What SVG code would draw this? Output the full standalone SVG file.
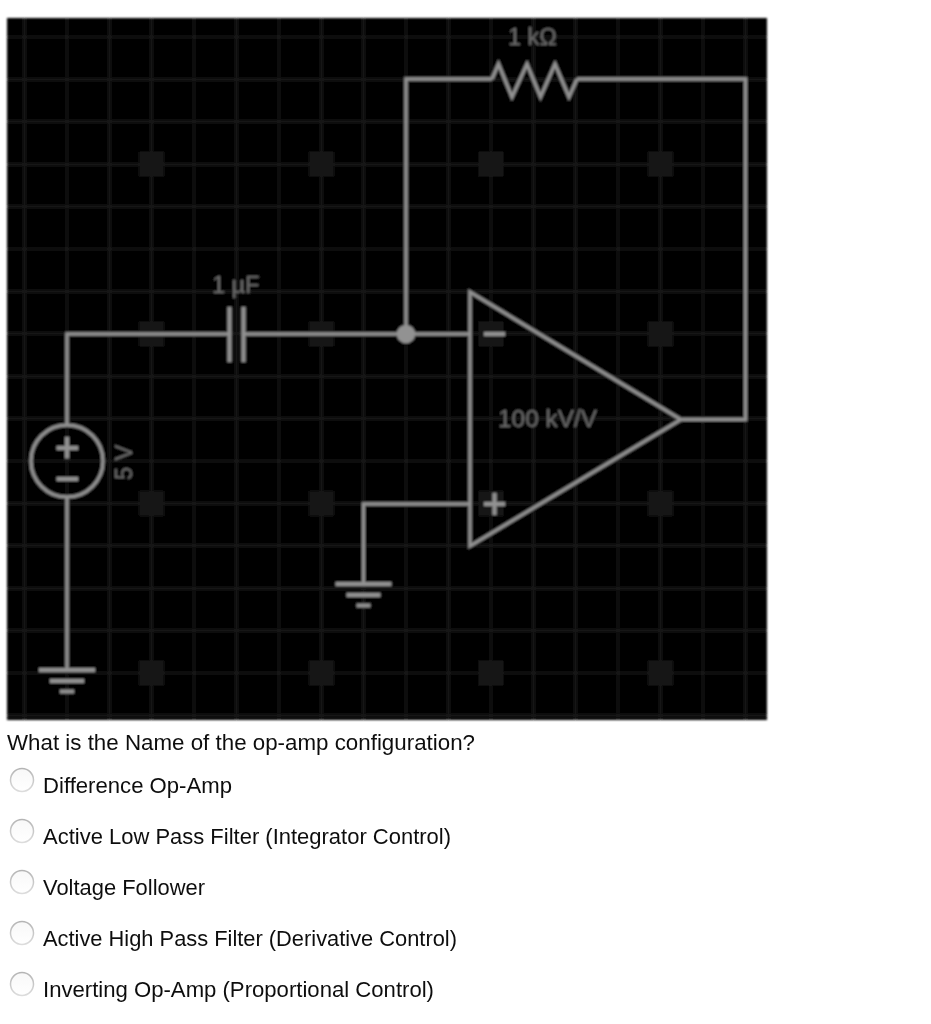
<svg xmlns="http://www.w3.org/2000/svg" width="931" height="1024" viewBox="0 0 931 1024">
<style>
.w{fill:none;stroke:#929292;stroke-width:3.400;stroke-linejoin:miter}
.t{fill:none;stroke:#929292;stroke-width:4.200}
.g{stroke:#191919;stroke-width:3;fill:none}
.s{fill:#171717}
.l{font-family:"Liberation Sans",Arial,sans-serif;font-size:23.500px;fill:#6c6c6c}
.q{font-family:"Liberation Sans",Arial,sans-serif;font-size:22.500px;fill:#111}
.r{fill:url(#rf);stroke:url(#rs);stroke-width:1.500}
</style>
<defs>
<filter id="b" x="-5%" y="-5%" width="110%" height="110%"><feGaussianBlur stdDeviation="0.8"/></filter>
<filter id="c" x="-5%" y="-5%" width="110%" height="110%"><feGaussianBlur stdDeviation="0.3"/></filter>
<linearGradient id="rs" x1="0" y1="0" x2="0" y2="1"><stop offset="0" stop-color="#b4b4b4"/><stop offset="1" stop-color="#dcdcdc"/></linearGradient>
<linearGradient id="rf" x1="0" y1="0" x2="0" y2="1"><stop offset="0" stop-color="#f8f8f8"/><stop offset="1" stop-color="#fff"/></linearGradient>
<g id="gnd"><path class="t" d="M-28 0H28M-17 11H17M-7 21.500H7"/></g>
</defs>
<rect width="931" height="1024" fill="#fff"/>
<g filter="url(#b)">
<g id="board">
<rect x="7" y="18" width="760" height="702" fill="#000"/>
<path class="g" d="M24.500 18V720M66.900 18V720M109.300 18V720M151.700 18V720M194.100 18V720M236.500 18V720M278.900 18V720M321.300 18V720M363.700 18V720M406.100 18V720M448.500 18V720M490.900 18V720M533.300 18V720M575.700 18V720M618.100 18V720M660.500 18V720M702.900 18V720M745.300 18V720"/>
<path class="g" d="M7 37H767M7 79.400H767M7 121.800H767M7 164.200H767M7 206.600H767M7 249H767M7 291.400H767M7 333.800H767M7 376.200H767M7 418.600H767M7 461H767M7 503.400H767M7 545.800H767M7 588.200H767M7 630.600H767M7 673H767M7 715.400H767"/>
<g class="s">
<rect x="139.200" y="151.700" width="25" height="25"/><rect x="308.800" y="151.700" width="25" height="25"/><rect x="478.400" y="151.700" width="25" height="25"/><rect x="648" y="151.700" width="25" height="25"/>
<rect x="139.200" y="321.300" width="25" height="25"/><rect x="308.800" y="321.300" width="25" height="25"/><rect x="478.400" y="321.300" width="25" height="25"/><rect x="648" y="321.300" width="25" height="25"/>
<rect x="139.200" y="490.900" width="25" height="25"/><rect x="308.800" y="490.900" width="25" height="25"/><rect x="478.400" y="490.900" width="25" height="25"/><rect x="648" y="490.900" width="25" height="25"/>
<rect x="139.200" y="660.500" width="25" height="25"/><rect x="308.800" y="660.500" width="25" height="25"/><rect x="478.400" y="660.500" width="25" height="25"/><rect x="648" y="660.500" width="25" height="25"/>
</g>
</g>
<g id="connectors">
<path class="w" d="M67 425V334H229"/>
<path class="w" d="M245 334H469"/>
<path class="w" d="M406 334V79H492"/>
<path class="w" d="M577 79H745.500V419.500H682"/>
<path class="w" d="M469 504H363.500V583"/>
<path class="w" d="M67 497V669"/>
</g>
<g id="source">
<circle cx="67" cy="461" r="36" class="w"/>
<path class="t" d="M56.500 448H78M67 437V458.500M56.500 479H78"/>
<text class="l" transform="translate(132 480) rotate(-90)">5 V</text>
</g>
<g id="ground1"><use href="#gnd" x="67" y="670"/></g>
<g id="ground2"><use href="#gnd" x="363.500" y="584"/></g>
<g id="capacitor">
<path class="t" d="M229.500 307V362M243.500 307V362"/>
<text class="l" x="212" y="293">1 µF</text>
</g>
<g id="resistor">
<path class="w" d="M492 79L498.500 64L512 97L527 64L540.500 97L555 64L569 97L577 79"/>
<text class="l" x="508" y="45">1 kΩ</text>
</g>
<g id="opamp">
<path class="w" d="M470 292V546L681 419.500Z"/>
<path class="t" d="M484 334H505M484 504H505M494.500 493V515"/>
<text class="l" x="498" y="427" textLength="99" lengthAdjust="spacingAndGlyphs">100 kV/V</text>
</g>
<g id="junction"><circle cx="406" cy="334" r="9.300" fill="#929292"/></g>
</g>
<g id="question" filter="url(#c)">
<text class="q" x="7" y="750" textLength="468" lengthAdjust="spacingAndGlyphs">What is the Name of the op-amp configuration?</text>
<circle class="r" cx="22" cy="780" r="11.500"/>
<text class="q" x="43" y="793" textLength="189" lengthAdjust="spacingAndGlyphs">Difference Op-Amp</text>
<circle class="r" cx="22" cy="831" r="11.500"/>
<text class="q" x="43" y="844" textLength="408" lengthAdjust="spacingAndGlyphs">Active Low Pass Filter (Integrator Control)</text>
<circle class="r" cx="22" cy="882" r="11.500"/>
<text class="q" x="43" y="895" textLength="162" lengthAdjust="spacingAndGlyphs">Voltage Follower</text>
<circle class="r" cx="22" cy="933" r="11.500"/>
<text class="q" x="43" y="946" textLength="414" lengthAdjust="spacingAndGlyphs">Active High Pass Filter (Derivative Control)</text>
<circle class="r" cx="22" cy="984" r="11.500"/>
<text class="q" x="43" y="997" textLength="391" lengthAdjust="spacingAndGlyphs">Inverting Op-Amp (Proportional Control)</text>
</g>
</svg>
